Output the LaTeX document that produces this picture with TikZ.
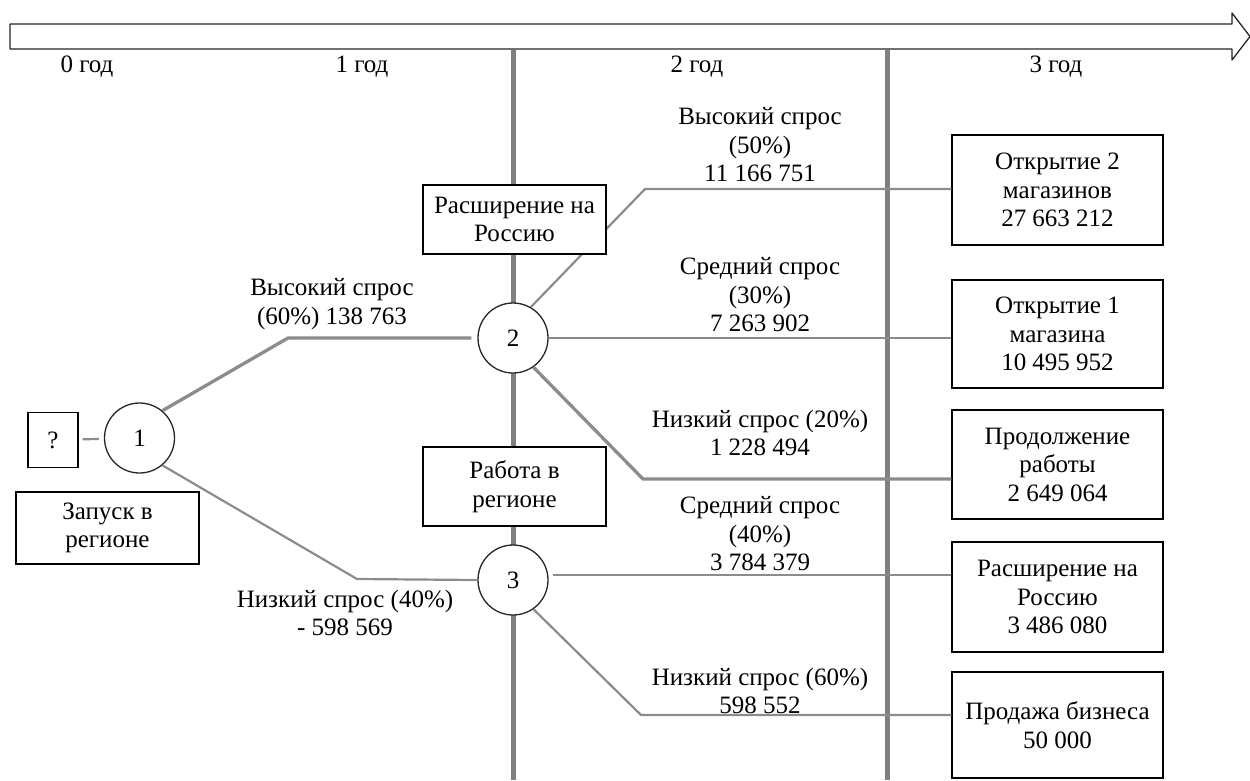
\documentclass[tikz,border=0pt]{standalone}
\usepackage{fontspec}
\setmainfont{Liberation Serif}
\begin{document}
\begin{tikzpicture}[x=1pt,y=-1pt,
  every node/.style={font=\fontsize{25}{28.5}\selectfont, text=black},
  vline/.style={line width=5pt, draw=black!50},
  br/.style={line width=2.2pt, draw=black!45},
  brthick/.style={line width=3.3pt, draw=black!45},
  boxnode/.style={draw=black, line width=1.3pt, fill=white, align=center, inner sep=0pt},
  circnode/.style={circle, draw=black!85, line width=1.3pt, fill=white, minimum size=70pt, inner sep=0pt},
  lbl/.style={align=center, inner sep=0pt}]
\useasboundingbox (0,0) rectangle (1250,780);

% time axis
\draw[draw=black!85, line width=1.3pt, fill=white, line join=round]
  (10,24) -- (1232,24) -- (1232,13) -- (1250,36.5) -- (1232,60) -- (1232,49) -- (10,49) -- cycle;
\node (y0) at (87,67) {0 год};
\node (y1) at (362,67) {1 год};
\node (y2) at (697,67) {2 год};
\node (y3) at (1056,67) {3 год};

% year separators
\draw[vline] (513,50) -- (513,780);
\draw[vline] (887,50) -- (887,780);

% nodes
\node[boxnode, minimum width=50pt, minimum height=55pt] (q) at (53,440) {?};
\node[circnode] (n1) at (139.5,438) {1};
\node[boxnode, minimum width=183pt, minimum height=72pt] (start) at (107.5,528) {Запуск в\\регионе};
\node[circnode] (n2) at (513,338) {2};
\node[circnode] (n3) at (513,580) {3};

\node[boxnode, minimum width=211pt, minimum height=110pt] (b1) at (1057.5,190) {Открытие 2\\магазинов\\27 663 212};
\node[boxnode, minimum width=211pt, minimum height=108pt] (b2) at (1057.5,334) {Открытие 1\\магазина\\10 495 952};
\node[boxnode, minimum width=211pt, minimum height=109pt] (b3) at (1057.5,464.5) {Продолжение\\работы\\2 649 064};
\node[boxnode, minimum width=211pt, minimum height=110pt] (b4) at (1057.5,597) {Расширение на\\Россию\\3 486 080};
\node[boxnode, minimum width=211pt, minimum height=106pt] (b5) at (1057.5,725) {Продажа бизнеса\\50 000};

% branch corners
\coordinate (c12) at (288,338);
\coordinate (c13) at (357,579);
\coordinate (c2a) at (645,189);
\coordinate (c2c) at (643,479);
\coordinate (s3) at (553,575);
\coordinate (c3b) at (641,715);

% branches
\draw[br, shorten <=4pt, shorten >=5pt] (q) -- (n1);
\draw[brthick] (n1.50) -- (c12) -- ([xshift=-6pt]n2.west);
\draw[br] (n1.-50) -- (c13) -- (n3.west);
\draw[br] (n2.60) -- (c2a) -- (c2a -| b1.west);
\draw[br] (n2.east) -- (n2.east -| b2.west);
\draw[brthick] (n2.-55) -- (c2c) -- (c2c -| b3.west);
\draw[br] (s3) -- (s3 -| b4.west);
\draw[br] (n3.-55) -- (c3b) -- (c3b -| b5.west);

% decision boxes on the first separator (drawn over the branches)
\node[boxnode, minimum width=183pt, minimum height=69pt] (ru) at (514.5,219.5) {Расширение на\\Россию};
\node[boxnode, minimum width=183pt, minimum height=79pt] (reg) at (514.5,486.5) {Работа в\\регионе};

% branch labels
\node[lbl] (l12) at (332,304) {Высокий спрос\\(60\%) 138 763};
\node[lbl] (l13) at (345,613) {Низкий спрос (40\%)\\- 598 569};
\node[lbl] (l2a) at (760,145) {Высокий спрос\\(50\%)\\11 166 751};
\node[lbl] (l2b) at (760,295) {Средний спрос\\(30\%)\\7 263 902};
\node[lbl] (l2c) at (760,433) {Низкий спрос (20\%)\\1 228 494};
\node[lbl] (l3a) at (760,534) {Средний спрос\\(40\%)\\3 784 379};
\node[lbl] (l3b) at (760,691) {Низкий спрос (60\%)\\598 552};
\end{tikzpicture}
\end{document}
